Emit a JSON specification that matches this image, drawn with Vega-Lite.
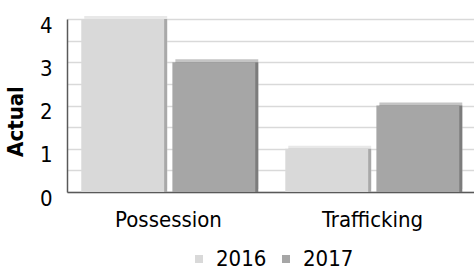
{
  "$schema": "https://vega.github.io/schema/vega-lite/v6.json",
  "autosize": "none",
  "width": 407,
  "height": 173,
  "padding": {"left": 67, "top": 19, "right": 0, "bottom": 84},
  "background": "white",
  "data": {"values": [
    {"cat": "Possession", "year": "2016", "value": 4},
    {"cat": "Possession", "year": "2017", "value": 3},
    {"cat": "Trafficking", "year": "2016", "value": 1},
    {"cat": "Trafficking", "year": "2017", "value": 2}
  ]},
  "encoding": {
    "x": {"field": "cat", "type": "nominal",
      "scale": {"paddingInner": 0.145, "paddingOuter": 0.07},
      "axis": {"title": null, "labelAngle": 0, "labelFont": "DejaVu Sans Condensed", "labelFontSize": 22, "labelColor": "#000", "ticks": false, "domainColor": "#595959", "domainWidth": 1.5, "labelPadding": 17}},
    "y": {"field": "value", "type": "quantitative",
      "scale": {"domain": [0, 4], "nice": false},
      "axis": {"title": "Actual", "titleFont": "DejaVu Sans Condensed", "titleFontSize": 22, "titleFontWeight": "bold", "titleColor": "#000", "titlePadding": 12, "titleY": 102,
        "values": [0, 0.5, 1, 1.5, 2, 2.5, 3, 3.5, 4],
        "labelExpr": "datum.value % 1 == 0 ? format(datum.value, 'd') : ''",
        "labelFont": "DejaVu Sans Condensed", "labelFontSize": 22, "labelColor": "#000", "labelPadding": 15, "labelOffset": 6,
        "ticks": false, "gridColor": "#d9d9d9", "gridWidth": 1.5, "domainColor": "#595959", "domainWidth": 1.5}}
  },
  "layer": [
    {
      "mark": {"type": "bar", "yOffset": -3},
      "encoding": {
        "xOffset": {"field": "year", "type": "nominal", "scale": {"paddingInner": 0.09, "range": [3, 177]}},
        "color": {"condition": {"test": "datum.year == '2016'", "value": "#e8e8e8"}, "value": "#c4c4c4"}
      }
    },
    {
      "mark": {"type": "bar"},
      "encoding": {
        "xOffset": {"field": "year", "type": "nominal", "scale": {"paddingInner": 0.09, "range": [3, 177]}},
        "color": {"condition": {"test": "datum.year == '2016'", "value": "#a9a9a9"}, "value": "#7c7c7c"}
      }
    },
    {
      "mark": {"type": "bar"},
      "encoding": {
        "xOffset": {"field": "year", "type": "nominal", "scale": {"paddingInner": 0.09, "range": [0, 174]}},
        "color": {"field": "year", "type": "nominal",
          "scale": {"domain": ["2016", "2017"], "range": ["#d9d9d9", "#a6a6a6"]},
          "legend": {"title": null, "orient": "bottom", "direction": "horizontal", "symbolType": "square", "symbolSize": 64, "symbolStrokeWidth": 0, "labelFont": "DejaVu Sans Condensed", "labelFontSize": 22, "labelColor": "#000", "columnPadding": 8, "labelOffset": 6, "offset": 18}}
      }
    }
  ],
  "resolve": {"scale": {"xOffset": "independent"}},
  "config": {"view": {"stroke": null}, "legend": {"layout": {"bottom": {"anchor": "middle"}}}}
}
